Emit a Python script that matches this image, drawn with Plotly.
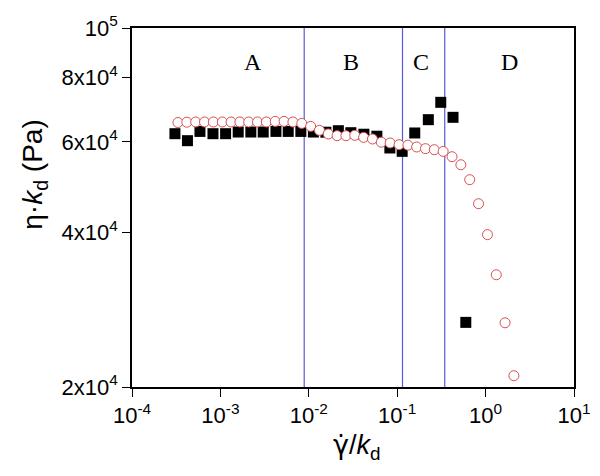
import math
import plotly.graph_objects as go

# ---- data ----
circ_x = [3.31e-4, 4.17e-4, 5.25e-4, 6.61e-4, 8.32e-4, 1.05e-3, 1.32e-3, 1.66e-3, 2.09e-3,
          2.63e-3, 3.31e-3, 4.17e-3, 5.25e-3, 6.61e-3, 8.32e-3, 1.05e-2, 1.32e-2, 1.66e-2,
          2.09e-2, 2.63e-2, 3.31e-2, 4.17e-2, 5.25e-2, 6.61e-2, 8.32e-2, 0.105, 0.132,
          0.166, 0.209, 0.263, 0.331, 0.417, 0.525, 0.661, 0.832, 1.05, 1.32, 1.66, 2.09]
circ_y = [65460, 65560, 65620, 65620, 65620, 65620, 65620, 65620, 65620,
          65620, 65620, 65790, 65790, 65620, 65200, 64340, 63200, 62190,
          61710, 61710, 61800, 61240, 60800, 59930, 59720, 59270, 59140,
          58660, 58220, 57950, 57510, 56160, 54170, 50660, 45490, 39600,
          33080, 26670, 21040]

sq_x = [3.06e-4, 4.24e-4, 5.87e-4, 8.24e-4, 1.145e-3, 1.59e-3, 2.21e-3, 3.05e-3,
        4.25e-3, 5.85e-3, 8.13e-3, 1.127e-2, 1.56e-2, 2.16e-2, 2.99e-2, 4.20e-2,
        5.89e-2, 8.26e-2, 0.1138, 0.158, 0.225, 0.311, 0.428, 0.597]
sq_y = [62260, 60340, 62900, 62260, 62260, 62730, 62730, 62730,
        62900, 62900, 62900, 62730, 62680, 63100, 62540, 62110,
        61560, 58400, 57520, 62460, 66300, 71660, 67000, 26720]

region_bounds = [0.00887, 0.1148, 0.345]
region_labels = ["A", "B", "C", "D"]
region_label_x = [2.35e-3, 3.0e-2, 0.185, 1.85]

x_tickvals = [1e-4, 1e-3, 1e-2, 1e-1, 1e0, 1e1]
x_ticktext = ["10<sup>-4</sup>", "10<sup>-3</sup>", "10<sup>-2</sup>",
              "10<sup>-1</sup>", "10<sup>0</sup>", "10<sup>1</sup>"]
y_tickvals = [2e4, 4e4, 6e4, 8e4, 1e5]
y_ticktext = ["2x10<sup>4</sup>", "4x10<sup>4</sup>", "6x10<sup>4</sup>",
              "8x10<sup>4</sup>", "10<sup>5</sup>"]

# minor tick positions (axis decoration only)
x_minor = [m * 10.0 ** e for e in range(-4, 1) for m in range(2, 10)]
y_minor = [v for v in range(22000, 100000, 2000) if v % 20000 != 0]

X_RANGE = [-4, 1]
Y_RANGE = [math.log10(2e4), 5]

fig = go.Figure()

fig.add_trace(go.Scatter(
    x=sq_x, y=sq_y, mode="markers",
    marker=dict(symbol="square", size=11, color="black", line=dict(width=0)),
    showlegend=False))
fig.add_trace(go.Scatter(
    x=circ_x, y=circ_y, mode="markers",
    marker=dict(symbol="circle", size=10, color="white",
                line=dict(color="#d85050", width=1)),
    showlegend=False))

for b in region_bounds:
    fig.add_shape(type="line", xref="x", yref="paper", x0=b, x1=b, y0=0, y1=1,
                  line=dict(color="#5a5ad2", width=1.2), layer="below")

for lx, lt in zip(region_label_x, region_labels):
    fig.add_annotation(x=math.log10(lx), xref="x", y=0.906, yref="paper", text=lt,
                       showarrow=False, xanchor="center", yanchor="middle",
                       font=dict(family="Liberation Serif, Times New Roman, serif",
                                 size=24, color="black"))

axis_font = dict(family="Liberation Sans, Arial, sans-serif", size=22, color="black")

fig.update_layout(
    xaxis=dict(type="log", range=X_RANGE, showline=True, mirror=True, automargin=False,
               linecolor="black", linewidth=1.5, showgrid=False, zeroline=False,
               tickmode="array", tickvals=x_tickvals, ticktext=x_ticktext,
               ticks="outside", ticklen=8, tickwidth=1.3, tickcolor="black",
               tickfont=axis_font),
    yaxis=dict(type="log", range=Y_RANGE, showline=True, mirror=True, automargin=False,
               linecolor="black", linewidth=1.5, showgrid=False, zeroline=False,
               tickmode="array", tickvals=y_tickvals, ticktext=y_ticktext,
               ticks="outside", ticklen=8, tickwidth=1.3, tickcolor="black",
               tickfont=axis_font),
    # overlay axes carrying only the short minor ticks
    xaxis2=dict(type="log", range=X_RANGE, overlaying="x", anchor="y", side="bottom",
                automargin=False, showline=False, showgrid=False, zeroline=False,
                tickmode="array", tickvals=x_minor, showticklabels=False,
                ticks="outside", ticklen=4, tickwidth=1.1, tickcolor="black"),
    yaxis2=dict(type="log", range=Y_RANGE, overlaying="y", anchor="x", side="left",
                automargin=False, showline=False, showgrid=False, zeroline=False,
                tickmode="array", tickvals=y_minor, showticklabels=False,
                ticks="outside", ticklen=4, tickwidth=1.1, tickcolor="black"),
)

# plot area is 442 x 359 px
fig.add_annotation(x=-97 / 442.3, xref="paper", y=(387.3 - 175) / 359, yref="paper",
                   text="η·<i>k</i><sub>d</sub> (Pa)", textangle=-90,
                   showarrow=False, xanchor="center", yanchor="middle",
                   font=dict(family="Liberation Sans, Arial, sans-serif", size=28, color="black"))
fig.add_annotation(x=(357 - 132) / 442.3, xref="paper", y=-(447 - 387.3) / 359, yref="paper",
                   text="<span style=\"font-family:DejaVu Sans\">\u03b3\u0307</span>/<i>k</i><sub>d</sub>",
                   showarrow=False, xanchor="center", yanchor="middle",
                   font=dict(family="Liberation Sans, Arial, sans-serif", size=27, color="black"))

# page body has an 8px default margin; size the figure so the plot area lands where the reference has it
fig.update_layout(width=592, height=468,
                  margin=dict(l=124, r=26, t=20, b=89),
                  paper_bgcolor="white", plot_bgcolor="white")

fig.write_html("out.html")
